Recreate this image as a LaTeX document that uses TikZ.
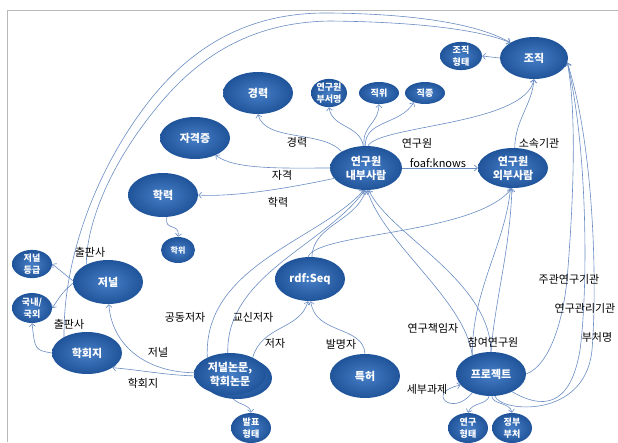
\documentclass[tikz,border=0pt]{standalone}
\usepackage{fontspec}
\setmainfont{Noto Sans CJK KR}
\usetikzlibrary{shapes.geometric,arrows.meta,backgrounds}
\definecolor{nodeA}{RGB}{70,126,198}
\definecolor{nodeB}{RGB}{32,84,154}
\definecolor{edgecol}{RGB}{105,140,195}
\definecolor{framecol}{RGB}{185,185,185}
\begin{document}
\begin{tikzpicture}[x=1pt,y=-1pt,
 ent/.style={ellipse, inner sep=0pt, align=center, text=white, inner color=nodeA, outer color=nodeB, font=\bfseries\fontsize{11}{14}\selectfont},
 sm/.style={ent, font=\bfseries\fontsize{9}{11.5}\selectfont},
 sz/.style 2 args={minimum width=#1pt, minimum height=#2pt},
 lab/.style={inner sep=0pt, font=\fontsize{11}{13}\selectfont},
 rel/.style={draw=edgecol, line width=0.6pt, -{Straight Barb[length=3pt,width=6pt]}},
]
\useasboundingbox (0,0) rectangle (618,442);
% nodes
\node[ent, sz={68}{42}] (jo) at (534,58) {조직};
\node[sm, sz={42}{26}] (johy) at (461,56) {조직\\형태};
\node[sm, sz={36}{26}] (busu) at (329,93) {연구원\\부서명};
\node[sm, sz={40}{22}] (jikwi) at (379,93) {직위};
\node[sm, sz={40}{22}] (jikjong) at (425,93) {직종};
\node[ent, sz={72}{44}] (naebu) at (366,168) {연구원\\내부사람};
\node[ent, sz={70}{40}] (oebu) at (513,168) {연구원\\외부사람};
\node[ent, sz={70}{42}] (kyung) at (258,93) {경력};
\node[ent, sz={70}{42}] (jakyuk) at (195,138) {자격증};
\node[ent, sz={70}{44}] (hakryuk) at (163,195) {학력};
\node[sm, sz={34}{26}, font=\bfseries\fontsize{8}{10}\selectfont] (hakwi) at (178,250) {학위};
\node[sm, sz={40}{28}] (jdeung) at (32,264) {저널\\등급};
\node[sm, sz={40}{30}] (guknae) at (32,308) {국내/\\국외};
\node[ent, sz={70}{44}] (journal) at (108,282) {저널};
\node[ent, sz={70}{42}] (hakhoe) at (87,353) {학회지};
\node[ent, sz={70}{42}] (paperbg) at (237,378) {};
\node[ent, sz={72}{42}] (paper) at (230,374) {저널논문,\\학회논문};
\node[sm, sz={40}{30}] (balpyo) at (251,428) {발표\\형태};
\node[ent, sz={70}{44}] (rdf) at (310,279) {rdf:Seq};
\node[ent, sz={70}{44}] (patent) at (365,376) {특허};
\node[ent, sz={70}{44}] (proj) at (491,374) {프로젝트};
\node[sm, sz={40}{30}] (yhy) at (468,428) {연구\\형태};
\node[sm, sz={40}{30}] (jungbu) at (512,428) {정부\\부처};
% labels
\node[lab] (l1) at (297,142) {경력};
\node[lab] (l2) at (282,175) {자격};
\node[lab] (l3) at (278,202) {학력};
\node[lab] (l4) at (417,143) {연구원};
\node[lab] (l5) at (438,163) {foaf:knows};
\node[lab] (l6) at (539,143) {소속기관};
\node[lab] (l7) at (90,252) {출판사};
\node[lab] (l8) at (69,324) {출판사};
\node[lab] (l9) at (185,317) {공동저자};
\node[lab] (l10) at (253,317) {교신저자};
\node[lab] (l11) at (275,343) {저자};
\node[lab] (l12) at (158,352) {저널};
\node[lab] (l13) at (143,383) {학회지};
\node[lab] (l14) at (341,344) {발명자};
\node[lab] (l15) at (433,328) {연구책임자};
\node[lab] (l16) at (493,342) {참여연구원};
\node[lab] (l17) at (427,389) {세부과제};
\node[lab] (l18) at (569,279) {주관연구기관};
\node[lab] (l19) at (585,308) {연구관리기관};
\node[lab] (l20) at (597,337) {부처명};
% edges
\begin{scope}[on background layer]
\draw[framecol, line width=0.8pt] (7,442) -- (7,10) -- (618,10);
\draw[rel] (hakhoe.145) .. controls (63,260) and (95,170) .. (150,100) .. controls (200,37) and (260,12) .. (330,13) .. controls (420,14) and (480,25) .. (jo.147);
\draw[rel] (journal.141) .. controls (86,230) and (105,170) .. (158,106) .. controls (208,45) and (265,22) .. (330,21) .. controls (420,22) and (480,30) .. (jo.147);
\draw[rel] (journal.178) .. controls (63,272) .. (jdeung.east);
\draw[rel] (journal.182) .. controls (63,292) .. (guknae.east);
\draw[rel] (hakhoe.west) .. controls (35,350) .. (guknae.south);
\draw[rel] (hakryuk.-80) .. controls (164,232) and (180,222) .. (hakwi.north);
\draw[rel] (naebu.146) .. controls (322,130) and (265,142) .. (kyung.south);
\draw[rel] (naebu.west) .. controls (285,168) and (235,170) .. (jakyuk.-40);
\draw[rel] (naebu.198) .. controls (280,190) and (230,197) .. (hakryuk.east);
\draw[rel] (naebu.97) .. controls (360,125) and (332,128) .. (busu.south);
\draw[rel] (naebu.95) .. controls (362,125) and (378,125) .. (jikwi.south);
\draw[rel] (naebu.92) .. controls (365,120) and (400,125) .. (jikjong.-140);
\draw[rel] (naebu.85) .. controls (380,125) and (525,125) .. (jo.south);
\draw[rel] (oebu.85) .. controls (515,120) and (532,105) .. (jo.south);
\draw[rel] (naebu.east) -- (oebu.west);
\draw[rel] (jo.west) -- (johy.east);
\draw[rel] (paper.144) .. controls (203,265) and (320,240) .. (naebu.-96);
\draw[rel] (paper.96) .. controls (226,275) and (325,245) .. (naebu.-93);
\draw[rel] (rdf.85) .. controls (313,225) and (355,222) .. (naebu.-90);
\draw[rel] (rdf.95) .. controls (318,232) and (475,235) .. (oebu.-93);
\draw[rel] (paper.36) .. controls (262,325) and (300,330) .. (rdf.-95);
\draw[rel] (patent.north) .. controls (363,325) and (315,335) .. (rdf.-88);
\draw[rel] (paper.178) .. controls (145,372) and (112,345) .. (journal.-88);
\draw[rel] (paper.183) .. controls (165,375) and (140,370) .. (hakhoe.-30);
\draw[rel] (paperbg.-100) .. controls (240,405) and (250,405) .. (balpyo.north);
\draw[rel] (proj.135) .. controls (465,300) and (385,245) .. (naebu.-87);
\draw[rel] (proj.north) .. controls (490,280) and (390,235) .. (naebu.-83);
\draw[rel] (proj.135) .. controls (472,290) and (505,245) .. (oebu.-97);
\draw[rel] (proj.north) .. controls (495,300) and (510,250) .. (oebu.-93);
\draw[rel] (proj.east) .. controls (550,365) and (563,320) .. (567,280) .. controls (572,220) and (578,120) .. (jo.-8);
\draw[rel] (proj.-40) .. controls (540,408) and (570,410) .. (580,350) .. controls (588,290) and (588,150) .. (jo.-8);
\draw[rel] (proj.-80) .. controls (500,412) and (585,420) .. (592,350) .. controls (597,290) and (595,150) .. (jo.-8);
\draw[rel] (proj.225) .. controls (452,418) and (425,392) .. (proj.200);
\draw[rel] (proj.-95) .. controls (487,405) and (472,402) .. (yhy.north);
\draw[rel] (proj.-88) .. controls (493,405) and (510,402) .. (jungbu.north);
\end{scope}
\end{tikzpicture}
\end{document}
